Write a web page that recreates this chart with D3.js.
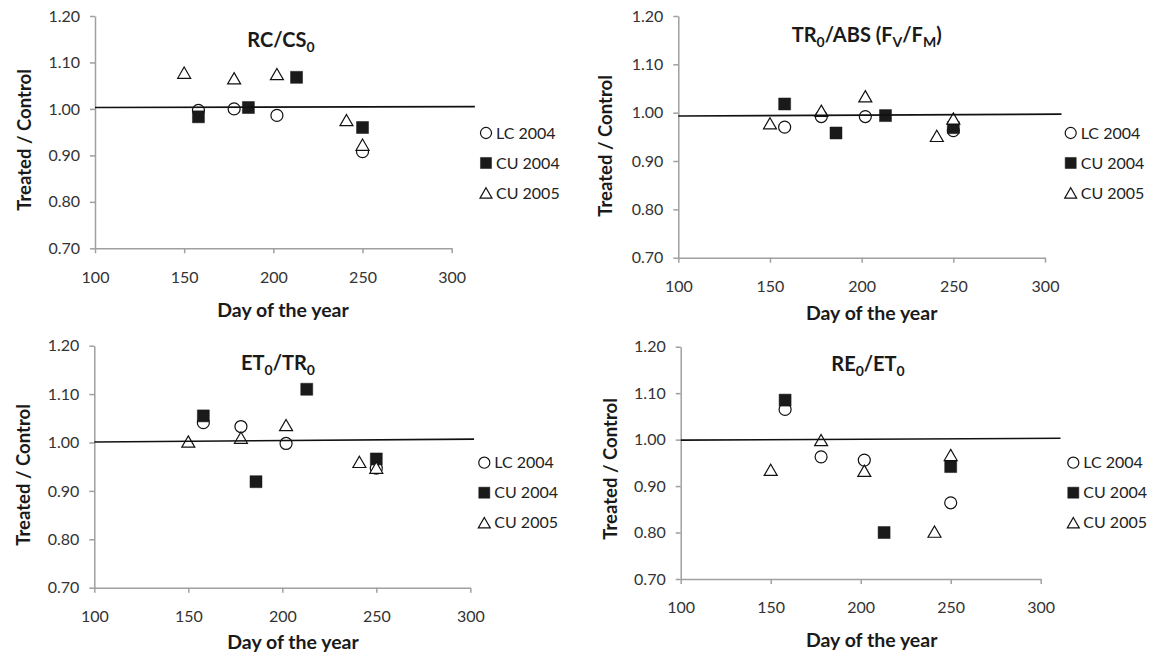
<!DOCTYPE html>
<html>
<head>
<meta charset="utf-8">
<script src="https://cdn.jsdelivr.net/npm/d3@7"></script>
<style>
  body { margin: 0; background: #fff; }
  text { font-family: Lato, "Open Sans", sans-serif; }
</style>
</head>
<body>
<div id="chart"></div>
<script>
// Sampling days for each series
const lcDays = [158, 178, 202, 250];
const cu04Days = [158, 186, 213, 250];
const cu05Days = [150, 178, 202, 241, 250];

// RC/CS0
const rcLC = [0.997, 1.000, 0.986, 0.908];
const rcCU04 = [0.983, 1.003, 1.068, 0.960];
const rcCU05 = [1.078, 1.066, 1.075, 0.976, 0.923];
const rcRef = [[100, 1.003], [313, 1.005]];

// TR0/ABS (FV/FM)
const trLC = [0.970, 0.992, 0.992, 0.963];
const trCU04 = [1.018, 0.958, 0.994, 0.969];
const trCU05 = [0.978, 1.004, 1.034, 0.952, 0.988];
const trRef = [[100, 0.993], [309, 0.997]];

// ET0/TR0
const etLC = [1.041, 1.033, 0.998, 0.947];
const etCU04 = [1.055, 0.919, 1.110, 0.966];
const etCU05 = [1.002, 1.010, 1.036, 0.960, 0.948];
const etRef = [[100, 1.001], [302, 1.007]];

// RE0/ET0 (no CU 2004 value on day 186)
const reLC = [1.065, 0.963, 0.956, 0.864];
const reCU04 = [1.085, null, 0.800, 0.942];
const reCU05 = [0.935, 0.999, 0.933, 0.802, 0.967];
const reRef = [[100, 0.999], [311, 1.003]];

const seriesNames = ["LC 2004", "CU 2004", "CU 2005"];
const xTicks = [100, 150, 200, 250, 300];
const yTicks = [0.70, 0.80, 0.90, 1.00, 1.10, 1.20];

// Layout of the four panels (pixel boxes)
const panels = [
  { title: [["RC/CS"], ["0", true]], lc: rcLC, cu04: rcCU04, cu05: rcCU05, ref: rcRef,
    left: 95, right: 451.7, top: 16, bottom: 248.3,
    titleX: 281, titleY: 47, xLabelX: 283, xLabelY: 317, yLabelX: 24, yLabelY: 140,
    legX: 486, legY: 133 },
  { title: [["TR"], ["0", true], ["/ABS (F"], ["V", true], ["/F"], ["M", true], [")"]],
    lc: trLC, cu04: trCU04, cu05: trCU05, ref: trRef,
    left: 678.3, right: 1045, top: 16, bottom: 257.7,
    titleX: 866.7, titleY: 42, xLabelX: 871.7, xLabelY: 320, yLabelX: 605, yLabelY: 146,
    legX: 1070.7, legY: 133 },
  { title: [["ET"], ["0", true], ["/TR"], ["0", true]], lc: etLC, cu04: etCU04, cu05: etCU05, ref: etRef,
    left: 94.3, right: 470.3, top: 345.7, bottom: 587.7,
    titleX: 278, titleY: 370, xLabelX: 293, xLabelY: 649, yLabelX: 23, yLabelY: 475,
    legX: 484.3, legY: 462.7 },
  { title: [["RE"], ["0", true], ["/ET"], ["0", true]], lc: reLC, cu04: reCU04, cu05: reCU05, ref: reRef,
    left: 680.7, right: 1040.7, top: 346.7, bottom: 579,
    titleX: 868, titleY: 371, xLabelX: 871.7, xLabelY: 647, yLabelX: 610, yLabelY: 469,
    legX: 1073.3, legY: 462.7 }
];

const svg = d3.select("#chart").append("svg")
  .attr("width", 1151)
  .attr("height", 655);

const markerSize = { circle: 113, square: 144, triangle: 73 };
const triShift = Math.sqrt(73 * 4 / Math.sqrt(3)) * Math.sqrt(3) / 2 / 6;

function marker(g, kind, scale) {
  let k = scale || 1;
  if (kind == 0) {
    return g.append("path")
      .attr("d", d3.symbol(d3.symbolCircle, markerSize.circle * k)())
      .attr("fill", "#fff").attr("stroke", "#111").attr("stroke-width", 1.2);
  } else if (kind == 1) {
    return g.append("path")
      .attr("d", d3.symbol(d3.symbolSquare, markerSize.square * k)())
      .attr("fill", "#1a1a1a").attr("stroke", "#1a1a1a").attr("stroke-width", 0.5);
  } else {
    return g.append("path")
      .attr("d", d3.symbol(d3.symbolTriangle, markerSize.triangle * k)())
      .attr("fill", "#fff").attr("stroke", "#111").attr("stroke-width", 1.2);
  }
}

function drawPanel(p) {
  const x = d3.scaleLinear().domain([100, 300]).range([p.left, p.right]);
  const y = d3.scaleLinear().domain([0.70, 1.20]).range([p.bottom, p.top]);
  const g = svg.append("g");

  // axes
  const xAxis = g.append("g")
    .attr("transform", `translate(0,${p.bottom})`)
    .call(d3.axisBottom(x).tickValues(xTicks).tickSize(5).tickSizeOuter(0).tickPadding(18));
  const yAxis = g.append("g")
    .attr("transform", `translate(${p.left},0)`)
    .call(d3.axisLeft(y).tickValues(yTicks).tickSize(5).tickSizeOuter(0).tickPadding(10)
      .tickFormat(d3.format(".2f")));
  [xAxis, yAxis].forEach(a => {
    a.selectAll("path, line").attr("stroke", "#a0a0a0").attr("stroke-width", 1.5);
    a.selectAll("text").attr("fill", "#333").attr("font-size", 16)
      .style("font-family", "Lato, 'Open Sans', sans-serif");
  });

  // points: LC 2004, then CU 2004, then CU 2005 on top
  const sets = [
    { kind: 0, days: lcDays, vals: p.lc },
    { kind: 1, days: cu04Days, vals: p.cu04 },
    { kind: 2, days: cu05Days, vals: p.cu05 }
  ];
  sets.forEach(s => {
    s.days.forEach((d, i) => {
      if (s.vals[i] == null) return;
      const m = marker(g, s.kind);
      const dy = s.kind == 2 ? triShift : 0;
      m.attr("transform", `translate(${x(d)},${y(s.vals[i]) + dy})`);
    });
  });

  // reference line
  g.append("path")
    .datum(p.ref)
    .attr("fill", "none")
    .attr("stroke", "#111")
    .attr("stroke-width", 1.6)
    .attr("d", d3.line().x(d => x(d[0])).y(d => y(d[1])));

  // title with subscripts
  const t = g.append("text")
    .attr("x", p.titleX).attr("y", p.titleY)
    .attr("text-anchor", "middle")
    .attr("font-weight", "bold").attr("font-size", 20).attr("fill", "#1a1a1a");
  let lowered = false;
  p.title.forEach(part => {
    const sub = !!part[1];
    let shift = 0;
    if (sub && !lowered) shift = 5;
    if (!sub && lowered) shift = -5;
    lowered = sub;
    t.append("tspan")
      .attr("dy", shift)
      .attr("font-size", sub ? 14 : 20)
      .text(part[0]);
  });

  // axis titles
  g.append("text")
    .attr("x", p.xLabelX).attr("y", p.xLabelY)
    .attr("text-anchor", "middle")
    .attr("font-weight", "bold").attr("font-size", 19.5).attr("fill", "#1a1a1a")
    .text("Day of the year");
  g.append("text")
    .attr("transform", `translate(${p.yLabelX + 7},${p.yLabelY}) rotate(-90)`)
    .attr("text-anchor", "middle")
    .attr("font-weight", "bold").attr("font-size", 18.5).attr("fill", "#1a1a1a")
    .text("Treated / Control");

  // legend
  seriesNames.forEach((name, i) => {
    const ly = p.legY + i * 30;
    const m = marker(g, i, 0.85);
    m.attr("transform", `translate(${p.legX},${ly + (i == 2 ? triShift * 0.9 : 0)})`);
    g.append("text")
      .attr("x", p.legX + 10).attr("y", ly)
      .attr("dy", "0.36em")
      .attr("font-size", 16).attr("fill", "#222")
      .text(name);
  });
}

panels.forEach(drawPanel);
</script>
</body>
</html>
